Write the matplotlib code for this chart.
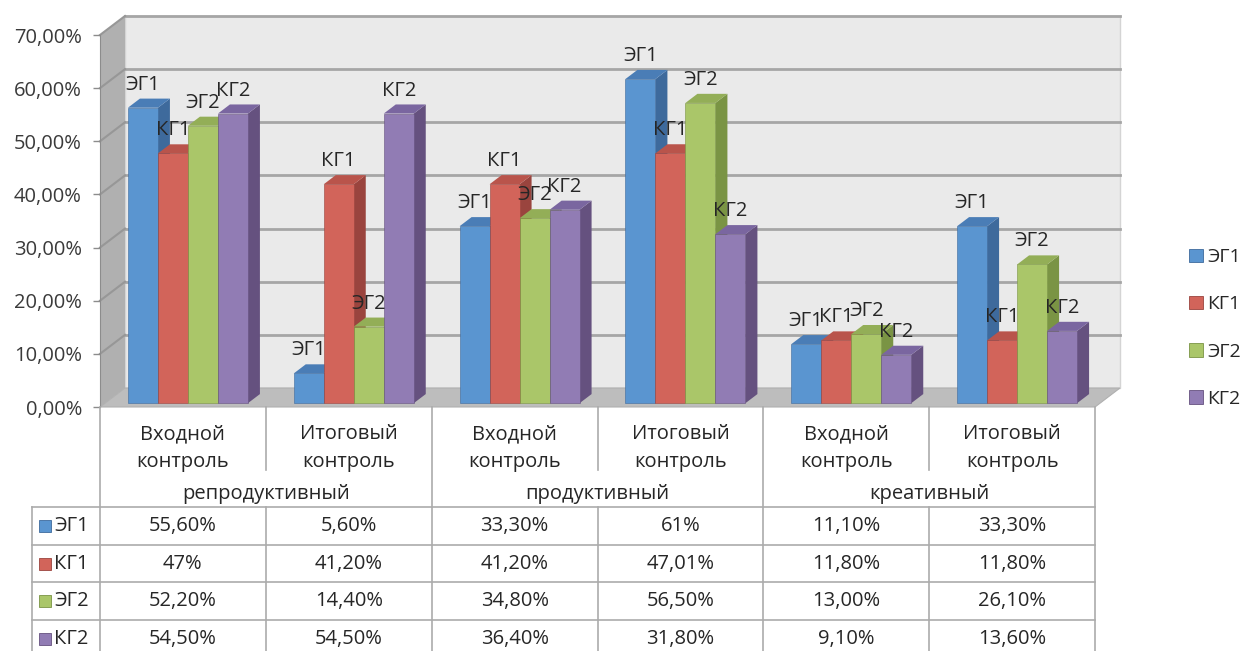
import numpy as np
from matplotlib import pyplot as plt
from matplotlib.patches import Patch, Polygon
from matplotlib.ticker import FuncFormatter

plt.rcParams['font.family'] = ['Open Sans', 'DejaVu Sans']

levels = ["репродуктивный", "продуктивный", "креативный"]
stages = ["Входной\nконтроль", "Итоговый\nконтроль"] * 3
groups = ["ЭГ1", "КГ1", "ЭГ2", "КГ2"]

eg1 = [55.6, 5.6, 33.3, 61.0, 11.1, 33.3]
kg1 = [47.0, 41.2, 41.2, 47.01, 11.8, 11.8]
eg2 = [52.2, 14.4, 34.8, 56.5, 13.0, 26.1]
kg2 = [54.5, 54.5, 36.4, 31.8, 9.1, 13.6]

eg1_txt = ["55,60%", "5,60%", "33,30%", "61%", "11,10%", "33,30%"]
kg1_txt = ["47%", "41,20%", "41,20%", "47,01%", "11,80%", "11,80%"]
eg2_txt = ["52,20%", "14,40%", "34,80%", "56,50%", "13,00%", "26,10%"]
kg2_txt = ["54,50%", "54,50%", "36,40%", "31,80%", "9,10%", "13,60%"]

values = [eg1, kg1, eg2, kg2]
texts = [eg1_txt, kg1_txt, eg2_txt, kg2_txt]

front = ['#5A95D0', '#D2645A', '#AAC669', '#917CB4']
side = ['#3E6A9C', '#9A443E', '#7A9444', '#65517F']
top = ['#4A7DB6', '#B9544B', '#93AE57', '#7A66A0']

fs = 14.5
txt_c = '#262626'

W, H = 1244, 651
fig = plt.figure(figsize=(W / 100, H / 100), dpi=100)

# chart box: x 0..6 categories, y 0..70 percent
x_px0, x_px1, y_px0, y_px1 = 100, 1095, 407, 35
ax = fig.add_axes([x_px0 / W, (H - y_px0) / H, (x_px1 - x_px0) / W, (y_px0 - y_px1) / H])
ax.set_xlim(0, 6)
ax.set_ylim(0, 70)
ppx = (x_px1 - x_px0) / 6.0
ppy = (y_px0 - y_px1) / 70.0

# depth of the 3d box, in data units
DX = 25 / ppx
DY = 19 / ppy
f0, f1 = 0.2, 0.68
w = 30 / ppx
n = 6
ymax = 70

grid_c = '#A6A6A6'
wall = Polygon([(DX, DY), (n + DX, DY), (n + DX, ymax + DY), (DX, ymax + DY)],
               closed=True, fc='#EAEAEA', ec='#D4D4D4', lw=1, zorder=0, clip_on=False)
ax.add_patch(wall)
left = Polygon([(0, 0), (DX, DY), (DX, ymax + DY), (0, ymax)],
               closed=True, fc='#B0B0B0', ec='none', zorder=0, clip_on=False)
ax.add_patch(left)
floor = Polygon([(0, 0), (n, 0), (n + DX, DY), (DX, DY)],
                closed=True, fc='#BDBDBD', ec='#B0B0B0', lw=0.8, zorder=1, clip_on=False)
ax.add_patch(floor)

for g in range(10, ymax + 1, 10):
    ax.plot([DX, n + DX], [g + DY, g + DY], color=grid_c, lw=2, zorder=0.5, clip_on=False)
    ax.plot([0, DX], [g, g + DY], color='#979797', lw=1.5, zorder=0.5, clip_on=False)

# bars, drawn left to right so each front face hides the neighbour's side
z = 2
for i in range(n):
    for j in range(4):
        v = values[j][i]
        x0 = i + 0.5 - 2 * w + j * w + f0 * DX
        y0 = f0 * DY
        ddx = (f1 - f0) * DX
        ddy = (f1 - f0) * DY
        sface = Polygon([(x0 + w, y0), (x0 + w + ddx, y0 + ddy), (x0 + w + ddx, v + y0 + ddy), (x0 + w, v + y0)],
                        closed=True, fc=side[j], ec='none', zorder=z, clip_on=False)
        tface = Polygon([(x0, v + y0), (x0 + w, v + y0), (x0 + w + ddx, v + y0 + ddy), (x0 + ddx, v + y0 + ddy)],
                        closed=True, fc=top[j], ec='none', zorder=z, clip_on=False)
        ax.add_patch(sface)
        ax.add_patch(tface)
        ax.bar(x0, v, width=w, bottom=y0, align='edge', color=front[j],
               edgecolor=side[j], linewidth=0.4, zorder=z, clip_on=False)
        ax.text(x0 + w / 2, v + y0 + 23 / ppy, groups[j], ha='center', va='center',
                fontsize=fs, color=txt_c, zorder=100, clip_on=False)
        z += 1

ax.set_xticks([])
ax.set_yticks(range(0, ymax + 1, 10))
ax.yaxis.set_major_formatter(FuncFormatter(lambda y, p: ("%.2f%%" % y).replace('.', ',')))
ax.tick_params(axis='y', direction='out', length=5, width=1, color='#8C8C8C',
               labelsize=fs, labelcolor='#3A3A3A', pad=8)
for s in ['top', 'right', 'bottom']:
    ax.spines[s].set_visible(False)
ax.spines['left'].set_color('#8C8C8C')
ax.patch.set_visible(False)

# data table under the chart, y in pixels from the floor edge
tb = fig.add_axes([x_px0 / W, 0, (x_px1 - x_px0) / W, (H - y_px0) / H])
tb.set_xlim(0, 6)
tb.set_ylim(H - y_px0, 0)
tb.axis('off')
line_c = '#ABABAB'
row_top = 100
row_h = 37.7
key_left = (32 - x_px0) / ppx

for c in [0, 2, 4, 6]:
    tb.plot([c, c], [0, H], color=line_c, lw=1.2, clip_on=False)
for c in [1, 3, 5]:
    tb.plot([c, c], [0, 63], color=line_c, lw=1.2, clip_on=False)
    tb.plot([c, c], [row_top, H], color=line_c, lw=1.2, clip_on=False)
tb.plot([key_left, key_left], [row_top, H], color=line_c, lw=1.2, clip_on=False)
for r in range(5):
    yy = row_top + r * row_h
    tb.plot([key_left, 6], [yy, yy], color=line_c, lw=1.2, clip_on=False)

for i in range(n):
    tb.text(i + 0.5, 41, stages[i], ha='center', va='center', fontsize=fs,
            color=txt_c, linespacing=1.5)
for k in range(3):
    tb.text(2 * k + 1, 87, levels[k], ha='center', va='center', fontsize=fs, color=txt_c)

for j in range(4):
    yc = row_top + (j + 0.5) * row_h
    tb.add_patch(Polygon([(key_left + 7 / ppx, yc - 6), (key_left + 19 / ppx, yc - 6),
                          (key_left + 19 / ppx, yc + 6), (key_left + 7 / ppx, yc + 6)],
                         closed=True, fc=front[j], ec=side[j], lw=0.6, clip_on=False))
    tb.text(key_left + 22 / ppx, yc, groups[j], ha='left', va='center', fontsize=fs,
            color=txt_c, clip_on=False)
    for i in range(n):
        tb.text(i + 0.5, yc, texts[j][i], ha='center', va='center', fontsize=fs, color=txt_c)

handles = [Patch(fc=front[j], ec=side[j], lw=0.6) for j in range(4)]
fig.legend(handles, groups, loc='center left', bbox_to_anchor=(1189 / W, (H - 328) / H),
           frameon=False, fontsize=14, handlelength=0.7, handleheight=0.7,
           handletextpad=0.25, labelspacing=1.5, borderaxespad=0, borderpad=0,
           labelcolor=txt_c)

plt.savefig("out.png", dpi=100)
